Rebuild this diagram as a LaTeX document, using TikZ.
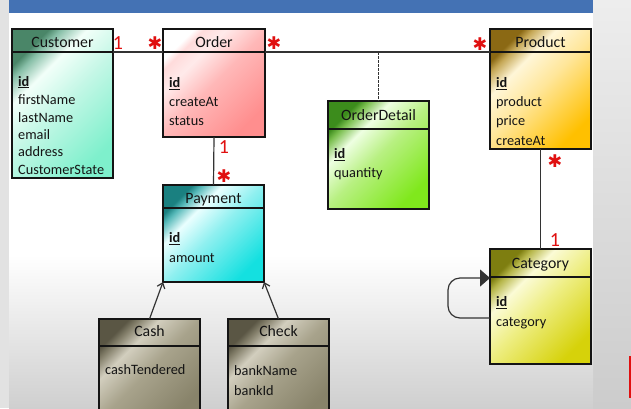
\documentclass[tikz,border=0pt]{standalone}
\usepackage{fontspec}
\setmainfont{Carlito}
\newfontfamily\starfont{DejaVu Sans}
\usetikzlibrary{arrows.meta,calc}
\definecolor{barblue}{HTML}{4472B4}
\definecolor{bgside}{HTML}{E2E2E2}
\definecolor{slidebot}{HTML}{CFCFCF}
\definecolor{multred}{HTML}{E01010}
\definecolor{inkc}{HTML}{141414}
% Customer
\definecolor{cuA}{HTML}{4A8668}\definecolor{cuB}{HTML}{F2FFF9}\definecolor{cuC}{HTML}{C4F7E6}\definecolor{cuD}{HTML}{7EF0CC}
% Order
\definecolor{orA}{HTML}{FFFFFF}\definecolor{orB}{HTML}{FFEAEA}\definecolor{orC}{HTML}{FFB8B8}\definecolor{orD}{HTML}{FF8E8E}
% Product
\definecolor{prA}{HTML}{8B6914}\definecolor{prB}{HTML}{FFF6D8}\definecolor{prC}{HTML}{FFE699}\definecolor{prD}{HTML}{FFC000}
% OrderDetail
\definecolor{odA}{HTML}{3C8C1C}\definecolor{odB}{HTML}{EEFFE2}\definecolor{odC}{HTML}{B8F082}\definecolor{odD}{HTML}{80E81C}
% Payment
\definecolor{paA}{HTML}{1A8080}\definecolor{paB}{HTML}{EAFFFF}\definecolor{paC}{HTML}{90F0F0}\definecolor{paD}{HTML}{14E0E0}
% Cash / Check
\definecolor{caA}{HTML}{5A5644}\definecolor{caB}{HTML}{D2CEBE}\definecolor{caC}{HTML}{A8A38C}\definecolor{caD}{HTML}{88836A}
% Category
\definecolor{ctA}{HTML}{7E7E10}\definecolor{ctB}{HTML}{FBFBD6}\definecolor{ctC}{HTML}{EEEE84}\definecolor{ctD}{HTML}{D6D20A}
\newcommand\mkshade[5]{\colorlet{#1mid}{#2!50!#4}\pgfdeclareverticalshading{#1}{100bp}{color(0bp)=(#5); color(25bp)=(#5); color(50bp)=(#4); color(64bp)=(#3); color(71.5bp)=(#1mid); color(75bp)=(#2); color(100bp)=(#2)}}
\mkshade{custsh}{cuA}{cuB}{cuC}{cuD}
\mkshade{ordsh}{orA}{orB}{orC}{orD}
\mkshade{prodsh}{prA}{prB}{prC}{prD}
\mkshade{odsh}{odA}{odB}{odC}{odD}
\mkshade{paysh}{paA}{paB}{paC}{paD}
\mkshade{cashsh}{caA}{caB}{caC}{caD}
\mkshade{catsh}{ctA}{ctB}{ctC}{ctD}
\newcommand\mstar{✱}
\begin{document}
\begin{tikzpicture}[x=1pt,y=-1pt,
  cls/.style={draw=inkc, line width=1.4pt, shade, shading angle=45, anchor=north west, inner sep=0pt, outer sep=0pt},
  hdr/.style={anchor=base, font=\fontsize{15.8}{18}\selectfont, inner sep=0pt, text=inkc},
  attr/.style={anchor=base west, font=\fontsize{14.3}{17}\selectfont, inner sep=0pt, text=inkc},
  divl/.style={draw=inkc, line width=1.2pt},
  link/.style={draw=black!80, line width=1.2pt},
  mult/.style={text=multred, inner sep=0pt, font=\fontsize{20}{20}\selectfont},
  star/.style={text=multred, inner sep=0pt, font=\starfont\fontsize{17.5}{18}\selectfont},
  gen/.style={link, -{Straight Barb[length=5pt,width=8pt]}}
]
\clip (0,0) rectangle (631,408);
% background
\fill[bgside] (0,0) rectangle (9,408);
\shade[top color=black!7, bottom color=black!20] (593,0) rectangle (631,408);
\fill[white] (9,0) rectangle (593,255);
\shade[top color=white, bottom color=slidebot] (9,255) rectangle (593,408);
\fill[barblue] (9,0) rectangle (593,13);
\fill[multred] (629,356) rectangle (631,398);

% Customer
\node[cls, shading=custsh, minimum width=101pt, minimum height=149pt] (cust) at (12,29) {};
\coordinate (custL) at ($(cust.north west)+(0,23)$);
\coordinate (custR) at ($(cust.north east)+(0,23)$);
\draw[divl] (custL) -- (custR);
\node[hdr] (custT) at (62.5,47.7) {Customer};
\node[attr] (cu1) at (18,86) {\underline{\textbf{id}}};
\node[attr] (cu2) at (18,104.3) {firstName};
\node[attr] (cu3) at (18,122.3) {lastName};
\node[attr] (cu4) at (18,139.5) {email};
\node[attr] (cu5) at (18,156.8) {address};
\node[attr] (cu6) at (18,174.5) {CustomerState};

% Order
\node[cls, shading=ordsh, minimum width=102pt, minimum height=108pt] (order) at (163,29) {};
\coordinate (ordL) at ($(order.north west)+(0,23)$);
\coordinate (ordR) at ($(order.north east)+(0,23)$);
\draw[divl] (ordL) -- (ordR);
\node[hdr] (ordT) at (214,47.7) {Order};
\node[attr] (or1) at (169,87.3) {\underline{\textbf{id}}};
\node[attr] (or2) at (169,106) {createAt};
\node[attr] (or3) at (169,125.3) {status};

% Product
\node[cls, shading=prodsh, minimum width=101pt, minimum height=120pt] (prod) at (490,29) {};
\coordinate (prodL) at ($(prod.north west)+(0,23)$);
\coordinate (prodR) at ($(prod.north east)+(0,23)$);
\draw[divl] (prodL) -- (prodR);
\node[hdr] (prodT) at (540.5,47.7) {Product};
\node[attr] (pr1) at (496,87.3) {\underline{\textbf{id}}};
\node[attr] (pr2) at (496,106) {product};
\node[attr] (pr3) at (496,125.3) {price};
\node[attr] (pr4) at (496,145) {createAt};

% OrderDetail
\node[cls, shading=odsh, minimum width=101pt, minimum height=108pt] (od) at (328,101) {};
\draw[divl] ($(od.north west)+(0,28)$) -- ($(od.north east)+(0,28)$);
\node[hdr] (odT) at (378.5,120) {OrderDetail};
\node[attr] (od1) at (334,158.7) {\underline{\textbf{id}}};
\node[attr] (od2) at (334,177.7) {quantity};

% Payment
\node[cls, shading=paysh, minimum width=101pt, minimum height=97pt] (pay) at (163,185) {};
\draw[divl] ($(pay.north west)+(0,23)$) -- ($(pay.north east)+(0,23)$);
\node[hdr] (payT) at (213.5,203.3) {Payment};
\node[attr] (pa1) at (169,242.7) {\underline{\textbf{id}}};
\node[attr] (pa2) at (169,262.3) {amount};

% Cash
\node[cls, shading=cashsh, minimum width=101pt, minimum height=100pt] (cash) at (99,319) {};
\draw[divl] ($(cash.north west)+(0,27)$) -- ($(cash.north east)+(0,27)$);
\node[hdr] (cashT) at (149.5,336.7) {Cash};
\node[attr] (ca1) at (105,374.3) {cashTendered};

% Check
\node[cls, shading=cashsh, minimum width=101pt, minimum height=100pt] (check) at (228,319) {};
\draw[divl] ($(check.north west)+(0,27)$) -- ($(check.north east)+(0,27)$);
\node[hdr] (checkT) at (278.5,336.7) {Check};
\node[attr] (ch1) at (234,375.7) {bankName};
\node[attr] (ch2) at (234,395) {bankId};

% Category
\node[cls, shading=catsh, minimum width=101pt, minimum height=115pt] (cat) at (490,249) {};
\draw[divl] ($(cat.north west)+(0,28)$) -- ($(cat.north east)+(0,28)$);
\node[hdr] (catT) at (540.5,268.3) {Category};
\node[attr] (ct1) at (496,306.7) {\underline{\textbf{id}}};
\node[attr] (ct2) at (496,326.7) {category};

% connectors
\draw[link] (custR) -- (ordL);
\draw[link] (ordR) -- (prodL);
\draw[link, dashed, line width=1pt, dash pattern=on 2.5pt off 1.5pt] (od.north |- prodL) -- (od.north);
\draw[link] (order.south) -- (pay.north);
\draw[gen] (cash.north) -- (pay.south west);
\draw[gen] (check.north) -- (pay.south east);
\draw[link] (prod.south) -- (cat.north);
\coordinate (catLo) at ($(cat.north west)+(0,69)$);
\coordinate (catHi) at ($(cat.north west)+(0,29)$);
\draw[link, rounded corners=12pt, -{Triangle[length=10pt,width=17pt]}] (catLo) -- (448,318) -- (448,278) -- (catHi);

% multiplicities
\node[mult] (m1) at (118,43) {1};
\node[star] (m2) at (155,43) {\mstar};
\node[star] (m3) at (274,43) {\mstar};
\node[star] (m4) at (480,44) {\mstar};
\node[mult] (m5) at (224,147) {1};
\node[star] (m6) at (224,176) {\mstar};
\node[star] (m7) at (555,161) {\mstar};
\node[mult] (m8) at (555,240) {1};
\end{tikzpicture}
\end{document}
